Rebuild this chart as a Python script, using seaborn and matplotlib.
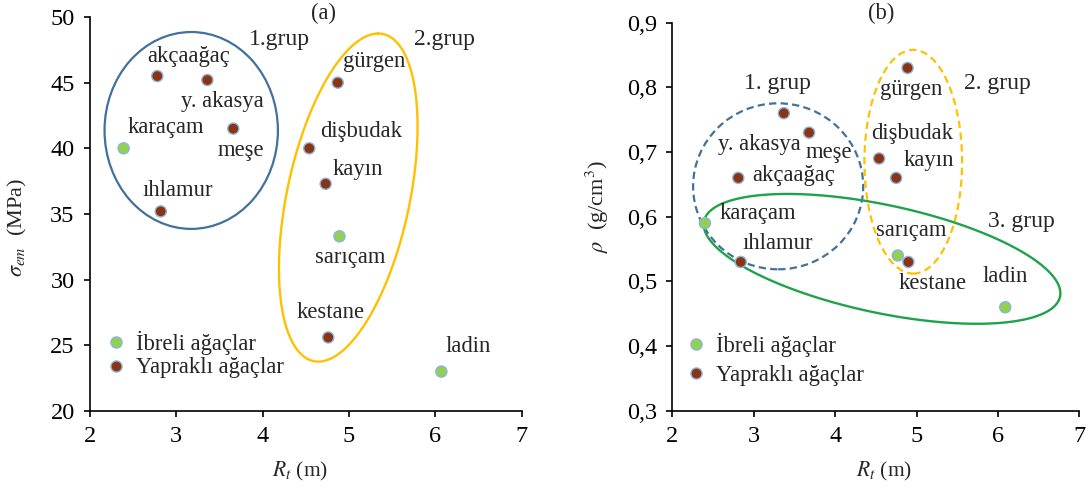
import numpy as np
import pandas as pd
import matplotlib
matplotlib.use("Agg")
import matplotlib.pyplot as plt
from matplotlib.patches import Ellipse
import seaborn as sns

# ---------------- data ----------------
species = ["karaçam", "akçaağaç", "y. akasya", "meşe", "ıhlamur", "gürgen",
           "dişbudak", "kayın", "sarıçam", "kestane", "ladin"]
kind = ["İbreli ağaçlar", "Yapraklı ağaçlar", "Yapraklı ağaçlar", "Yapraklı ağaçlar",
        "Yapraklı ağaçlar", "Yapraklı ağaçlar", "Yapraklı ağaçlar", "Yapraklı ağaçlar",
        "İbreli ağaçlar", "Yapraklı ağaçlar", "İbreli ağaçlar"]
kind_order = ["İbreli ağaçlar", "Yapraklı ağaçlar"]

rt_a = [2.39, 2.78, 3.36, 3.66, 2.82, 4.87, 4.54, 4.73, 4.89, 4.76, 6.07]
sigma_em = [40.0, 45.5, 45.2, 41.5, 35.2, 45.0, 40.0, 37.3, 33.3, 25.6, 23.0]

rt_b = [2.40, 2.81, 3.37, 3.68, 2.84, 4.89, 4.54, 4.75, 4.77, 4.90, 6.09]
rho = [0.59, 0.66, 0.76, 0.73, 0.53, 0.83, 0.69, 0.66, 0.54, 0.53, 0.46]

# label positions (data units)
lab_a_x = [2.88, 3.14, 3.53, 3.75, 3.02, 5.29, 5.14, 5.10, 5.01, 4.79, 6.38]
lab_a_y = [41.6, 47.0, 43.6, 39.8, 36.8, 46.6, 41.3, 38.4, 31.7, 27.5, 24.9]
lab_b_x = [3.05, 3.49, 3.07, 3.92, 3.29, 4.93, 4.95, 5.15, 4.94, 5.20, 6.09]
lab_b_y = [0.605, 0.664, 0.712, 0.699, 0.559, 0.797, 0.729, 0.687, 0.579, 0.496, 0.507]

groups_a = ["1.grup", "2.grup"]
groups_a_x = [4.19, 6.11]
groups_a_y = [48.3, 48.3]
groups_b = ["1. grup", "2. grup", "3. grup"]
groups_b_x = [3.29, 5.99, 6.29]
groups_b_y = [0.806, 0.806, 0.592]

x_ticks = [2, 3, 4, 5, 6, 7]
ya_ticks = [20, 25, 30, 35, 40, 45, 50]
yb_ticks = [0.3, 0.4, 0.5, 0.6, 0.7, 0.8, 0.9]
yb_ticklabels = ["0,3", "0,4", "0,5", "0,6", "0,7", "0,8", "0,9"]

# ---------------- style ----------------
sns.set_theme(style="ticks")
plt.rcParams["font.family"] = ["Liberation Serif", "DejaVu Serif"]
plt.rcParams["mathtext.fontset"] = "stix"

GREEN_PT = "#92D050"
BROWN_PT = "#8B3412"
EDGE_PT = "#8DB3E2"
palette = {kind_order[0]: GREEN_PT, kind_order[1]: BROWN_PT}

BLUE = "#41719C"
YELLOW = "#FFC000"
GREEN = "#1FA34A"

FS = 16.3

fig = plt.figure(figsize=(10.89, 4.88), dpi=100)
axA = fig.add_axes([0.0826, 0.1578, 0.3964, 0.8074])
axB = fig.add_axes([0.6174, 0.1584, 0.3737, 0.7951])

df_a = pd.DataFrame({"Rt": rt_a, "val": sigma_em, "tur": kind, "ad": species})
df_b = pd.DataFrame({"Rt": rt_b, "val": rho, "tur": kind, "ad": species})

for ax, df in ((axA, df_a), (axB, df_b)):
    sns.scatterplot(data=df, x="Rt", y="val", hue="tur", hue_order=kind_order,
                    palette=palette, s=64, edgecolor=EDGE_PT, linewidth=1.0,
                    ax=ax, zorder=4)


def conj_ellipse(ax, c, u, v, **kw):
    t = np.linspace(0, 2 * np.pi, 400)
    x = c[0] + u[0] * np.cos(t) + v[0] * np.sin(t)
    y = c[1] + u[1] * np.cos(t) + v[1] * np.sin(t)
    ax.plot(x, y, **kw)


# panel (a) groups
axA.add_patch(Ellipse((3.173, 41.36), 2.008, 14.99, fill=False,
                      edgecolor=BLUE, lw=1.6, zorder=2))
conj_ellipse(axA, (4.992, 36.25), (0.347, 12.49), (0.724, 0.0),
             color=YELLOW, lw=1.7, zorder=2)

# panel (b) groups
axB.add_patch(Ellipse((3.30, 0.647), 2.09, 0.2567, fill=False,
                      edgecolor=BLUE, lw=1.6, ls=(0, (3.3, 1.9)), zorder=2))
axB.add_patch(Ellipse((4.96, 0.685), 1.20, 0.346, fill=False,
                      edgecolor=YELLOW, lw=1.6, ls=(0, (3.3, 2.0)), zorder=2))
conj_ellipse(axB, (4.576, 0.5348), (2.187, -0.0585), (-0.138, -0.0816),
             color=GREEN, lw=1.7, zorder=2)

# labels
for name, x, y in zip(species, lab_a_x, lab_a_y):
    axA.text(x, y, name, fontsize=FS, ha="center", va="center", zorder=5)
for name, x, y in zip(species, lab_b_x, lab_b_y):
    axB.text(x, y, name, fontsize=FS, ha="center", va="center", zorder=5)
for name, x, y in zip(groups_a, groups_a_x, groups_a_y):
    axA.text(x, y, name, fontsize=17, ha="center", va="center", zorder=5)
for name, x, y in zip(groups_b, groups_b_x, groups_b_y):
    axB.text(x, y, name, fontsize=17, ha="center", va="center", zorder=5)
axA.text(4.70, 50.3, "(a)", fontsize=FS, ha="center", va="center", clip_on=False)
axB.text(4.56, 0.915, "(b)", fontsize=FS, ha="center", va="center", clip_on=False)

# axes formatting
for ax in (axA, axB):
    ax.set_xlim(2, 7)
    ax.set_xticks(x_ticks)
    ax.set_xticklabels([str(v) for v in x_ticks])
    sns.despine(ax=ax)
    for sp in ("left", "bottom"):
        ax.spines[sp].set_linewidth(1.2)
        ax.spines[sp].set_color("black")
    ax.tick_params(direction="out", length=4.5, width=1.2, colors="black",
                   labelsize=17.5, pad=6.5)
    ax.set_xlabel(r"$R_t$ (m)", fontsize=15.5)

axA.set_ylim(20, 50)
axA.set_yticks(ya_ticks)
axA.set_yticklabels([str(v) for v in ya_ticks])
axA.set_ylabel(r"$\sigma_{em}$  (MPa)", fontsize=16)
axA.yaxis.set_label_coords(-0.141, 0.467)
axA.xaxis.set_label_coords(0.486, -0.124)

axB.set_ylim(0.3, 0.9)
axB.set_yticks(yb_ticks)
axB.set_yticklabels(yb_ticklabels)
axB.set_ylabel(r"$\rho$  (g/cm$^3$)", fontsize=16)
axB.yaxis.set_label_coords(-0.151, 0.525)
axB.xaxis.set_label_coords(0.519, -0.127)

sns.move_legend(axA, "upper left", bbox_to_anchor=(0.039, 0.203), frameon=False,
                title=None, fontsize=FS, handletextpad=0.5, labelspacing=0.1,
                borderpad=0, borderaxespad=0, handlelength=0.8)
sns.move_legend(axB, "upper left", bbox_to_anchor=(0.035, 0.20), frameon=False,
                title=None, fontsize=FS, handletextpad=0.5, labelspacing=0.35,
                borderpad=0, borderaxespad=0, handlelength=0.8)

fig.savefig("out.png", dpi=100)
